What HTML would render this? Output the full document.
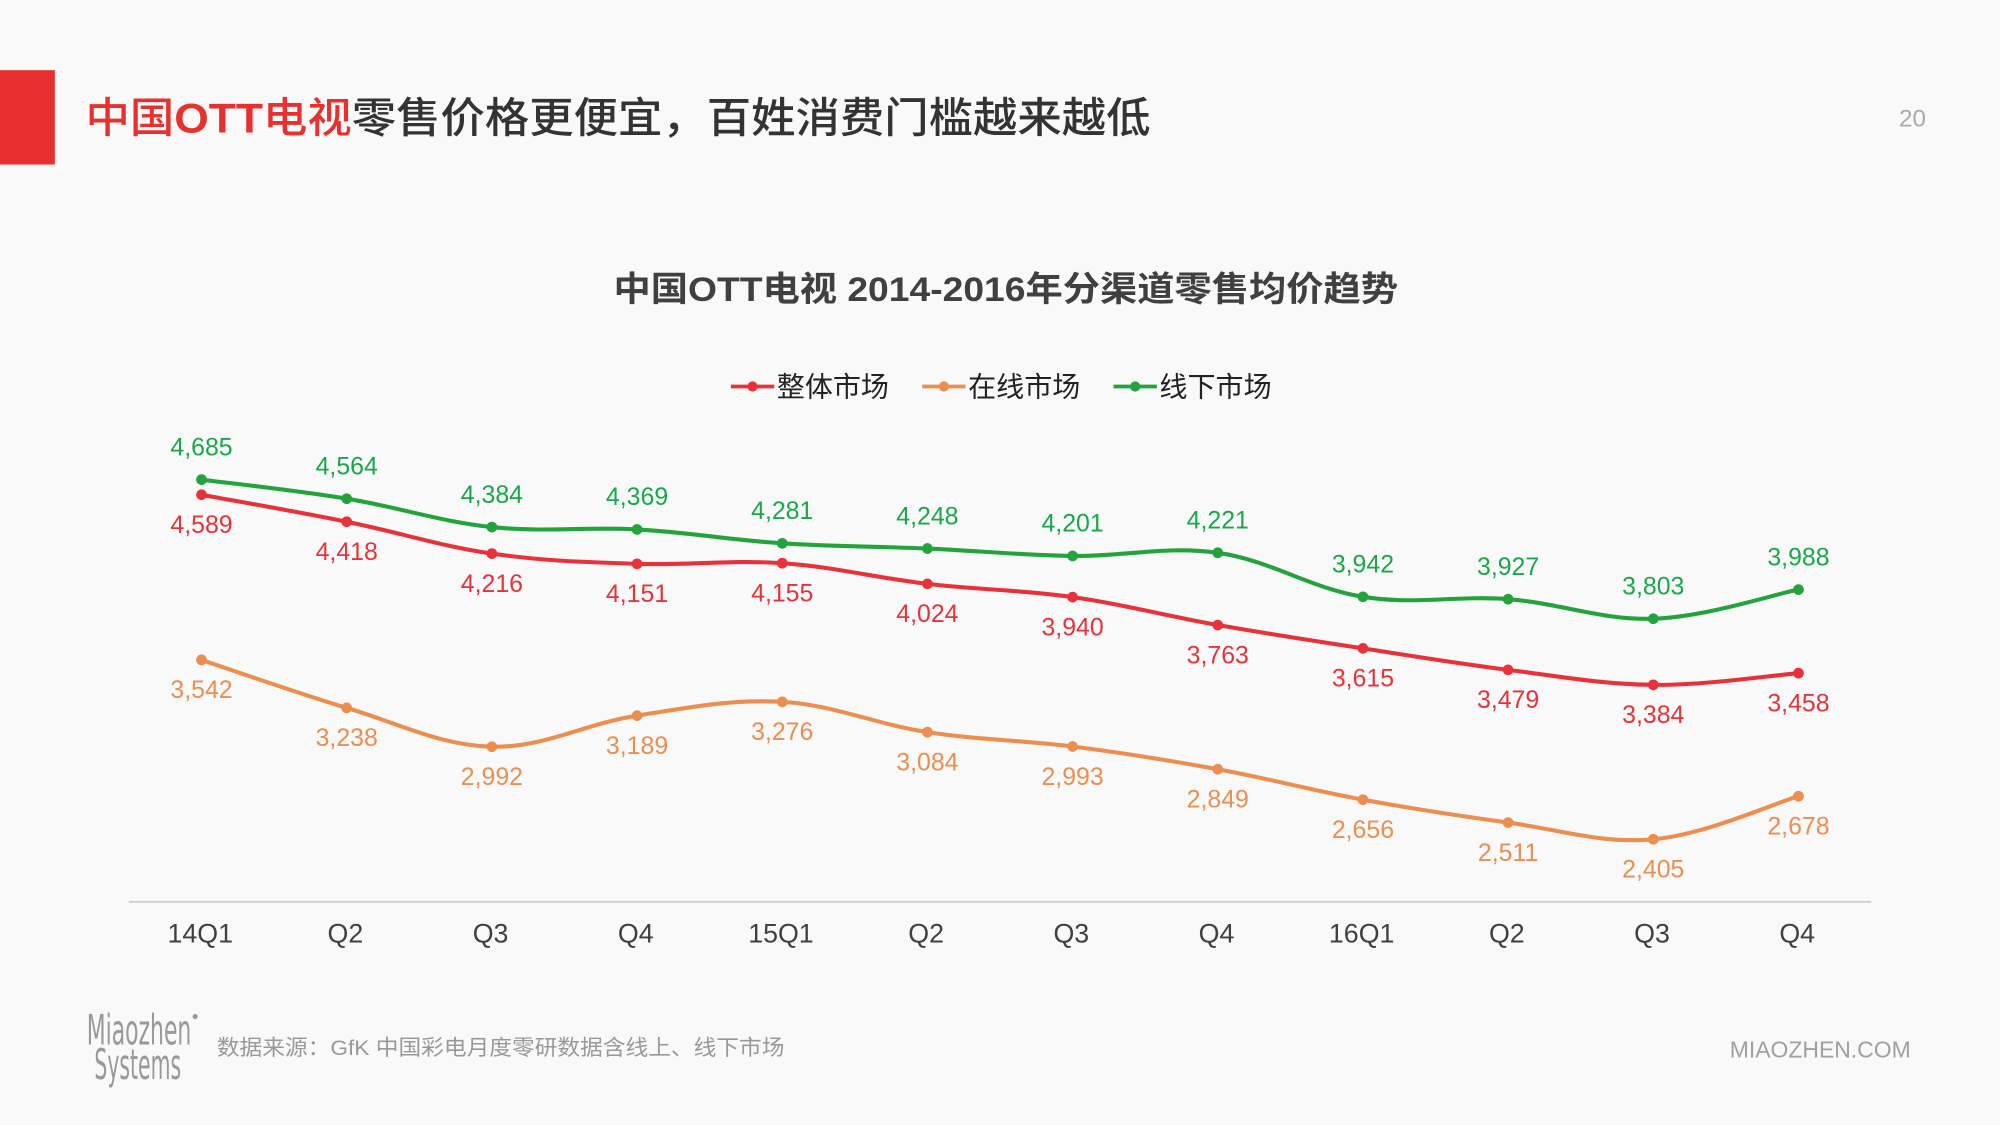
<!DOCTYPE html>
<html><head><meta charset="utf-8">
<style>
html,body{margin:0;padding:0;background:#f9f9f9;}
svg{display:block;font-family:"Liberation Sans","Noto Sans CJK SC",sans-serif;}
</style></head>
<body>
<svg id="chart" width="2000" height="1125" viewBox="0 0 1568 882" xmlns="http://www.w3.org/2000/svg">
<rect x="0" y="0" width="1568" height="882" fill="#f9f9f9"/>
<rect x="0" y="55" width="43" height="74" fill="#e8312f"/>
<text x="67" y="104" font-size="33" font-weight="500" textLength="835" lengthAdjust="spacingAndGlyphs"><tspan fill="#e8312f">中国<tspan font-weight="bold">OTT</tspan>电视</tspan><tspan fill="#333">零售价格更便宜，百姓消费门槛越来越低</tspan></text>
<text x="1510" y="99" font-size="19" fill="#aaa" text-anchor="end">20</text>
<text x="481" y="236" font-size="27" font-weight="bold" fill="#404040" textLength="615" lengthAdjust="spacingAndGlyphs">中国OTT电视 2014-2016年分渠道零售均价趋势</text>
<g id="legend"></g>
<line x1="101" y1="707" x2="1467" y2="707" stroke="#d0d0d0" stroke-width="1.5"/>
<g id="xticks"></g>
<g id="series"></g>
<g fill="#999" font-family="'Liberation Sans Narrow','DejaVu Sans Condensed',sans-serif">
<text x="68" y="819" font-size="33" textLength="82" lengthAdjust="spacingAndGlyphs">Miaozhen</text>
<circle cx="153" cy="797" r="2"/>
<text x="74" y="846" font-size="33" textLength="68" lengthAdjust="spacingAndGlyphs">Systems</text>
</g>
<text x="170" y="827" font-size="17" fill="#999" textLength="445" lengthAdjust="spacingAndGlyphs">数据来源：GfK 中国彩电月度零研数据含线上、线下市场</text>
<text x="1498" y="829" font-size="18" fill="#a0a0a0" text-anchor="end">MIAOZHEN.COM</text>
</svg>
<script>
const categories = ["14Q1","Q2","Q3","Q4","15Q1","Q2","Q3","Q4","16Q1","Q2","Q3","Q4"];
const overall = [4589,4418,4216,4151,4155,4024,3940,3763,3615,3479,3384,3458];
const online = [3542,3238,2992,3189,3276,3084,2993,2849,2656,2511,2405,2678];
const offline = [4685,4564,4384,4369,4281,4248,4201,4221,3942,3927,3803,3988];
const seriesNames = ["整体市场","在线市场","线下市场"];

const NS = "http://www.w3.org/2000/svg";
function xScale(i){ return 158 + i*(1410-158)/(categories.length-1); }
function yScale(v){ return 376 + (4685 - v)*(282/2280); }
function el(tag, attrs, parent){ const e=document.createElementNS(NS,tag); for(const k in attrs) e.setAttribute(k,attrs[k]); parent.appendChild(e); return e; }
function fmt(v){ return v.toLocaleString("en-US"); }

const xt = document.getElementById("xticks");
categories.forEach((c,i)=>{
  const t = el("text",{x:xScale(i)-1,y:739,"font-size":21,fill:"#404040","text-anchor":"middle"},xt);
  t.textContent = c;
  
  
});

function smoothPath(pts){
  let d = "M"+pts[0][0]+","+pts[0][1];
  for(let i=0;i<pts.length-1;i++){
    const p0=pts[i-1]||pts[i], p1=pts[i], p2=pts[i+1], p3=pts[i+2]||p2, k=0.18;
    const c1=[p1[0]+(p2[0]-p0[0])*k, p1[1]+(p2[1]-p0[1])*k];
    const c2=[p2[0]-(p3[0]-p1[0])*k, p2[1]-(p3[1]-p1[1])*k];
    d += " C"+c1[0]+","+c1[1]+" "+c2[0]+","+c2[1]+" "+p2[0]+","+p2[1];
  }
  return d;
}

const sg = document.getElementById("series");
const defs = [
  {vals:online, color:"#eb8e4f", label:"#eb8e4f", dy:30, name:"online"},
  {vals:overall, color:"#e8323a", label:"#e8323a", dy:30, name:"overall"},
  {vals:offline, color:"#23a33c", label:"#18a84a", dy:-19, name:"offline"}
];
defs.forEach(s=>{
  const g = el("g",{},sg);
  
  
  const pts = s.vals.map((v,i)=>[xScale(i),yScale(v)]);
  const p = el("path",{d:smoothPath(pts),fill:"none",stroke:s.color,"stroke-width":3.2},g);
  
  
  s.vals.forEach((v,i)=>{
    const c = el("circle",{cx:xScale(i),cy:yScale(v),r:4.2,fill:s.color},g);
    
    
    const t = el("text",{x:xScale(i),y:yScale(v)+s.dy,"font-size":19.5,fill:s.label,"text-anchor":"middle","font-weight":"500"},g);
    t.textContent = fmt(v);
    
    
  });
});

const lg = document.getElementById("legend");
const lcolors = ["#e8323a","#eb8e4f","#23a33c"];
const lx = [573,723,873];
seriesNames.forEach((n,i)=>{
  const g = el("g",{},lg);
  
  
  const l = el("line",{x1:lx[i],y1:303,x2:lx[i]+34,y2:303,stroke:lcolors[i],"stroke-width":3},g);
  
  
  const c = el("circle",{cx:lx[i]+17,cy:303,r:4,fill:lcolors[i]},g);
  
  
  const t = el("text",{x:lx[i]+36,y:311,"font-size":22,fill:"#222"},g);
  t.textContent = n;
  
  
});
</script>
</body></html>
